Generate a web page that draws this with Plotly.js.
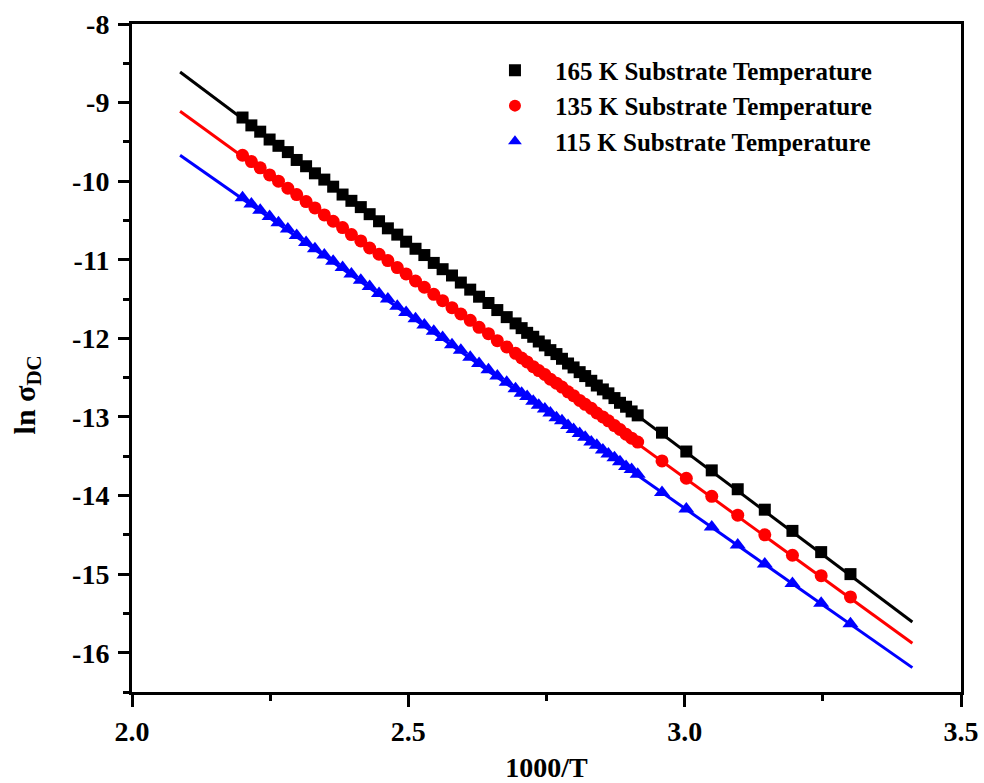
<!DOCTYPE html>
<html>
<head>
<meta charset="utf-8">
<script src="https://cdn.plot.ly/plotly-3.0.1.min.js"></script>
<style>html,body{margin:0;padding:0;background:#fff;}#chart{width:984px;height:783px;}</style>
</head>
<body>
<div id="chart"></div>
<script>
// 1000/T values (shared by the three series)
const xVals = [2.200, 2.216, 2.232, 2.249, 2.265, 2.282, 2.298, 2.315, 2.331, 2.348,
  2.364, 2.381, 2.397, 2.414, 2.430, 2.447, 2.463, 2.480, 2.496, 2.513,
  2.529, 2.546, 2.562, 2.579, 2.595, 2.612, 2.628, 2.645, 2.661, 2.678,
  2.694, 2.705, 2.715, 2.726, 2.736, 2.747, 2.757, 2.768, 2.778, 2.789,
  2.799, 2.810, 2.820, 2.831, 2.841, 2.852, 2.862, 2.873, 2.883, 2.894,
  2.904, 2.915, 2.959, 3.003, 3.049, 3.096, 3.145, 3.195, 3.247, 3.300];

// ln sigma_DC, 165 K substrate temperature
const ln165 = [-9.19, -9.29, -9.37, -9.47, -9.55, -9.63, -9.73, -9.81, -9.90, -9.98,
  -10.07, -10.17, -10.25, -10.33, -10.42, -10.51, -10.60, -10.68, -10.77, -10.86,
  -10.94, -11.04, -11.12, -11.20, -11.29, -11.38, -11.47, -11.55, -11.64, -11.73,
  -11.81, -11.87, -11.93, -11.98, -12.04, -12.09, -12.15, -12.20, -12.26, -12.32,
  -12.37, -12.43, -12.48, -12.54, -12.60, -12.65, -12.70, -12.76, -12.82, -12.87,
  -12.93, -12.98, -13.20, -13.44, -13.68, -13.92, -14.18, -14.45, -14.72, -15.00];

// ln sigma_DC, 135 K substrate temperature
const ln135 = [-9.67, -9.75, -9.83, -9.92, -10.00, -10.09, -10.17, -10.26, -10.34, -10.43,
  -10.51, -10.59, -10.68, -10.76, -10.85, -10.93, -11.01, -11.10, -11.18, -11.27,
  -11.35, -11.44, -11.52, -11.61, -11.69, -11.77, -11.86, -11.94, -12.03, -12.11,
  -12.19, -12.25, -12.30, -12.36, -12.41, -12.46, -12.52, -12.57, -12.62, -12.68,
  -12.73, -12.79, -12.84, -12.89, -12.95, -13.00, -13.05, -13.11, -13.16, -13.22,
  -13.27, -13.32, -13.56, -13.78, -14.01, -14.25, -14.50, -14.76, -15.02, -15.29];

// ln sigma_DC, 115 K substrate temperature
const ln115 = [-10.21, -10.29, -10.37, -10.45, -10.53, -10.61, -10.69, -10.78, -10.86, -10.94,
  -11.02, -11.10, -11.18, -11.26, -11.34, -11.43, -11.50, -11.59, -11.67, -11.75,
  -11.83, -11.91, -11.99, -12.08, -12.15, -12.24, -12.32, -12.40, -12.48, -12.56,
  -12.64, -12.70, -12.74, -12.80, -12.85, -12.90, -12.95, -13.01, -13.05, -13.11,
  -13.16, -13.21, -13.26, -13.32, -13.36, -13.42, -13.47, -13.52, -13.57, -13.63,
  -13.67, -13.73, -13.96, -14.17, -14.40, -14.63, -14.87, -15.12, -15.37, -15.63];

// linear fit lines (end points)
const fitX = [2.087, 3.412];
const fit165 = [-8.61, -15.61];
const fit135 = [-9.11, -15.88];
const fit115 = [-9.67, -16.19];

// tick labels
const xTickVals = [2.0, 2.5, 3.0, 3.5];
const xTickText = ['2.0', '2.5', '3.0', '3.5'];
const yTickVals = [-8, -9, -10, -11, -12, -13, -14, -15, -16];
const yTickText = ['-8', '-9', '-10', '-11', '-12', '-13', '-14', '-15', '-16'];

const seriesNames = ['165 K Substrate Temperature', '135 K Substrate Temperature', '115 K Substrate Temperature'];
const colors = ['#000000', '#ff0000', '#0000ff'];

const FONT = 'Liberation Serif, Times New Roman, serif';

const traces = [
  {x: fitX, y: fit165, mode: 'lines', line: {color: colors[0], width: 3}, showlegend: false, hoverinfo: 'skip'},
  {x: fitX, y: fit135, mode: 'lines', line: {color: colors[1], width: 3}, showlegend: false, hoverinfo: 'skip'},
  {x: fitX, y: fit115, mode: 'lines', line: {color: colors[2], width: 3}, showlegend: false, hoverinfo: 'skip'},
  {x: xVals, y: ln165, mode: 'markers', name: seriesNames[0], marker: {symbol: 'square', size: 12, color: colors[0]}},
  {x: xVals, y: ln135, mode: 'markers', name: seriesNames[1], marker: {symbol: 'circle', size: 13, color: colors[1]}},
  {x: xVals, y: ln115, mode: 'markers', name: seriesNames[2], marker: {symbol: 'triangle-up', size: 14, color: colors[2]}}
];

const layout = {
  width: 984, height: 783,
  margin: {l: 132, r: 23, t: 24, b: 91},
  paper_bgcolor: '#fff', plot_bgcolor: '#fff',
  font: {family: FONT, color: '#000'},
  showlegend: true,
  legend: {
    x: 0.4137, y: 0.965, xanchor: 'left', yanchor: 'top',
    bgcolor: 'rgba(0,0,0,0)',
    font: {family: FONT, size: 25, color: '#000', weight: 'bold'},
    itemwidth: 70, tracegroupgap: 0, itemsizing: 'constant'
  },
  xaxis: {
    range: [2.0, 3.5], tickmode: 'array', tickvals: xTickVals, ticktext: xTickText,
    showline: true, linecolor: '#000', linewidth: 3, mirror: true,
    ticks: 'outside', ticklen: 12, tickwidth: 3, tickcolor: '#000',
    minor: {dtick: 0.25, tick0: 2.0, ticks: 'outside', ticklen: 6, tickwidth: 3, tickcolor: '#000'},
    showgrid: false, zeroline: false,
    tickfont: {family: FONT, size: 28, color: '#000', weight: 'bold'},
    title: {text: '1000/T', font: {family: FONT, size: 28, color: '#000', weight: 'bold'}, standoff: 15},
    automargin: false
  },
  yaxis: {
    range: [-16.5, -8], tickmode: 'array', tickvals: yTickVals, ticktext: yTickText,
    showline: true, linecolor: '#000', linewidth: 3, mirror: true,
    ticks: 'outside', ticklen: 11, tickwidth: 3, tickcolor: '#000',
    minor: {dtick: 0.5, tick0: -8, ticks: 'outside', ticklen: 6, tickwidth: 3, tickcolor: '#000'},
    showgrid: false, zeroline: false,
    tickfont: {family: FONT, size: 28, color: '#000', weight: 'bold'},
    ticklabelstandoff: 3,
    automargin: false
  },
  annotations: [{
    text: 'ln σ<sub>DC</sub>', textangle: -90,
    xref: 'paper', yref: 'paper', x: -0.127, y: 0.445,
    xanchor: 'center', yanchor: 'middle', showarrow: false,
    font: {family: FONT, size: 30, color: '#000', weight: 'bold'}
  }]
};

Plotly.newPlot('chart', traces, layout, {displayModeBar: false, staticPlot: true});
</script>
</body>
</html>
